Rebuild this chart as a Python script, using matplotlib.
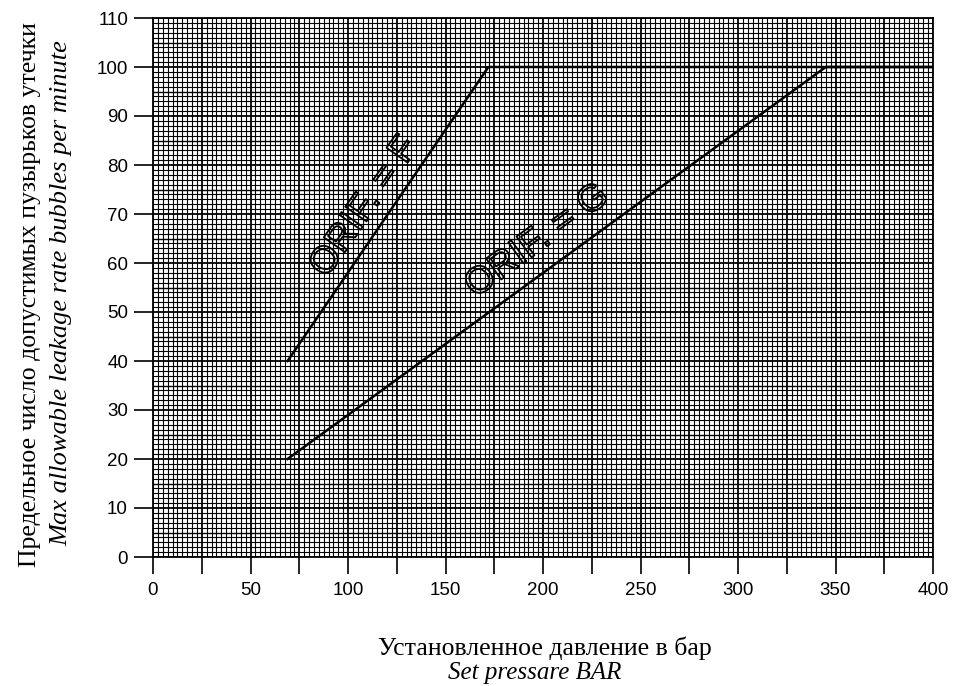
import matplotlib
matplotlib.use("Agg")
import matplotlib.pyplot as plt
import matplotlib.patheffects as pe
import numpy as np
from matplotlib.ticker import MultipleLocator

# Data
f_pressure = [69, 172, 400]
f_bubbles = [40, 100, 100]
g_pressure = [69, 345, 400]
g_bubbles = [20, 100, 100]

x_ticks = [0, 50, 100, 150, 200, 250, 300, 350, 400]
y_ticks = [0, 10, 20, 30, 40, 50, 60, 70, 80, 90, 100, 110]

ylabel_ru = "Предельное число допустимых пузырьков утечки"
ylabel_en = "Max allowable leakage rate bubbles per minute"
xlabel_ru = "Установленное давление в бар"
xlabel_en = "Set pressare BAR"

fig = plt.figure(figsize=(9.6, 6.86), dpi=100)
ax = fig.add_axes([153/960, 1 - 557/686, (933 - 153)/960, (557 - 18)/686])
ax.set_xlim(0, 400)
ax.set_ylim(0, 110)

# graph-paper grid
for xv in np.arange(0, 400.01, 2.5):
    lw = 1.3 if abs(xv % 25) < 1e-6 else 0.8
    ax.axvline(xv, color="black", lw=lw, zorder=1)
for yv in np.arange(0, 110.01, 1):
    lw = 1.3 if abs(yv % 10) < 1e-6 else (1.0 if abs(yv % 5) < 1e-6 else 0.8)
    ax.axhline(yv, color="black", lw=lw, zorder=1)

ax.plot(f_pressure, f_bubbles, color="black", lw=1.8, zorder=3)
ax.plot(g_pressure, g_bubbles, color="black", lw=1.8, zorder=3)

hollow = [pe.Stroke(linewidth=1.3, foreground="black")]
ax.text(108.5, 71.5, "ORIF. = F", rotation=55, ha="center", va="center",
        fontsize=27, family="Liberation Sans", color=(1, 1, 1, 0),
        path_effects=hollow, zorder=4)
ax.text(197, 64.5, "ORIF. = G", rotation=36, ha="center", va="center",
        fontsize=27, family="Liberation Sans", color=(1, 1, 1, 0),
        path_effects=hollow, zorder=4)

ax.set_xticks(x_ticks)
ax.set_xticklabels([str(v) for v in x_ticks])
ax.xaxis.set_minor_locator(MultipleLocator(25))
ax.set_yticks(y_ticks)
ax.set_yticklabels([str(v) for v in y_ticks])
ax.tick_params(axis="x", which="both", direction="out", length=12, width=1.2, pad=6)
ax.tick_params(axis="y", which="major", direction="out", length=14, width=1.2, pad=4)
for lab in ax.get_xticklabels() + ax.get_yticklabels():
    lab.set_family("Liberation Sans")
    lab.set_fontsize(13.5)
for s in ax.spines.values():
    s.set_linewidth(1.3)

fig.text(30/960, 1 - 295/686, ylabel_ru, rotation=90, ha="center", va="center",
         fontsize=18.5, family="Liberation Serif")
fig.text(61/960, 1 - 293/686, ylabel_en, rotation=90, ha="center", va="center",
         fontsize=19, family="Liberation Serif", style="italic")
fig.text(545/960, 1 - 648/686, xlabel_ru, ha="center", va="center",
         fontsize=18.5, family="Liberation Serif")
fig.text(535/960, 1 - 673/686, xlabel_en, ha="center", va="center",
         fontsize=18, family="Liberation Serif", style="italic")

fig.savefig("out.png", dpi=100)
